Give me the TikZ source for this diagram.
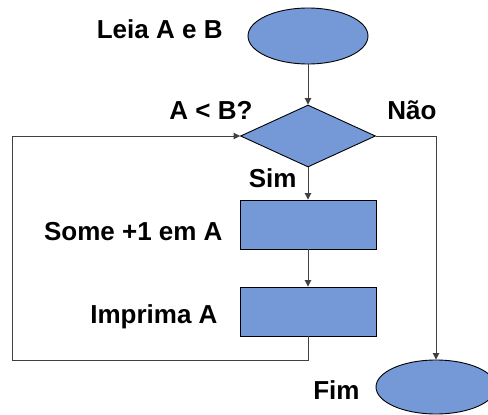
\documentclass[tikz,border=0pt]{standalone}
\usepackage{fontspec}
\setmainfont{Liberation Sans}
\usetikzlibrary{positioning}
\usetikzlibrary{shapes.geometric}
\usetikzlibrary{arrows.meta}
\definecolor{boxblue}{HTML}{7599D6}
\definecolor{flowgray}{HTML}{404040}
\tikzset{
    terminal/.style = {ellipse,draw,fill=boxblue,minimum width=120pt,minimum height=56pt},
    decision/.style = {diamond,draw,fill=boxblue,aspect=2.18,minimum width=135pt,minimum height=62pt,inner sep=0pt},
    process/.style = {rectangle,draw,fill=boxblue,minimum width=136pt,minimum height=49pt},
    flowtext/.style = {font=\bfseries\fontsize{26}{31}\selectfont,inner sep=0pt},
    flow/.style = {draw=flowgray,-{Triangle[length=6.5pt,width=6.5pt]}}}

\begin{document}
\begin{tikzpicture}[x=1pt,y=-1pt,line width=0.9pt]
        \useasboundingbox (0,0) rectangle (488,415);
        \path (308,36) node[terminal] (start) {}
        ++ (0,100) node[decision] (test) {}
        ++ (0,88.5) node[process] (some) {}
        ++ (0,87) node[process] (print) {}
        ++ (128,75.5) node[terminal,minimum height=54pt] (end) {};
        \node[flowtext,anchor=base east] (leia) at (223,38) {Leia A e B};
        \node[flowtext,anchor=base east] (cond) at (253,119) {A < B?};
        \node[flowtext,anchor=base west] (nao) at (387,119) {Não};
        \node[flowtext,anchor=base east] (sim) at (297,187) {Sim};
        \node[flowtext,anchor=base east] (somelabel) at (223,240) {Some +1 em A};
        \node[flowtext,anchor=base east] (printlabel) at (218,323) {Imprima A};
        \node[flowtext,anchor=base east] (fim) at (360,399) {Fim};
        \coordinate (loopleft) at (12,136);
        \draw[flow] (start) -- (test);
        \draw[flow] (test) -- (some);
        \draw[flow] (some) -- (print);
        \draw[flow] (print.south) -- ++(0,24) -| (loopleft) -- (test.west);
        \draw[flow] (test.east) -| (end.north);
    \end{tikzpicture}
\end{document}
